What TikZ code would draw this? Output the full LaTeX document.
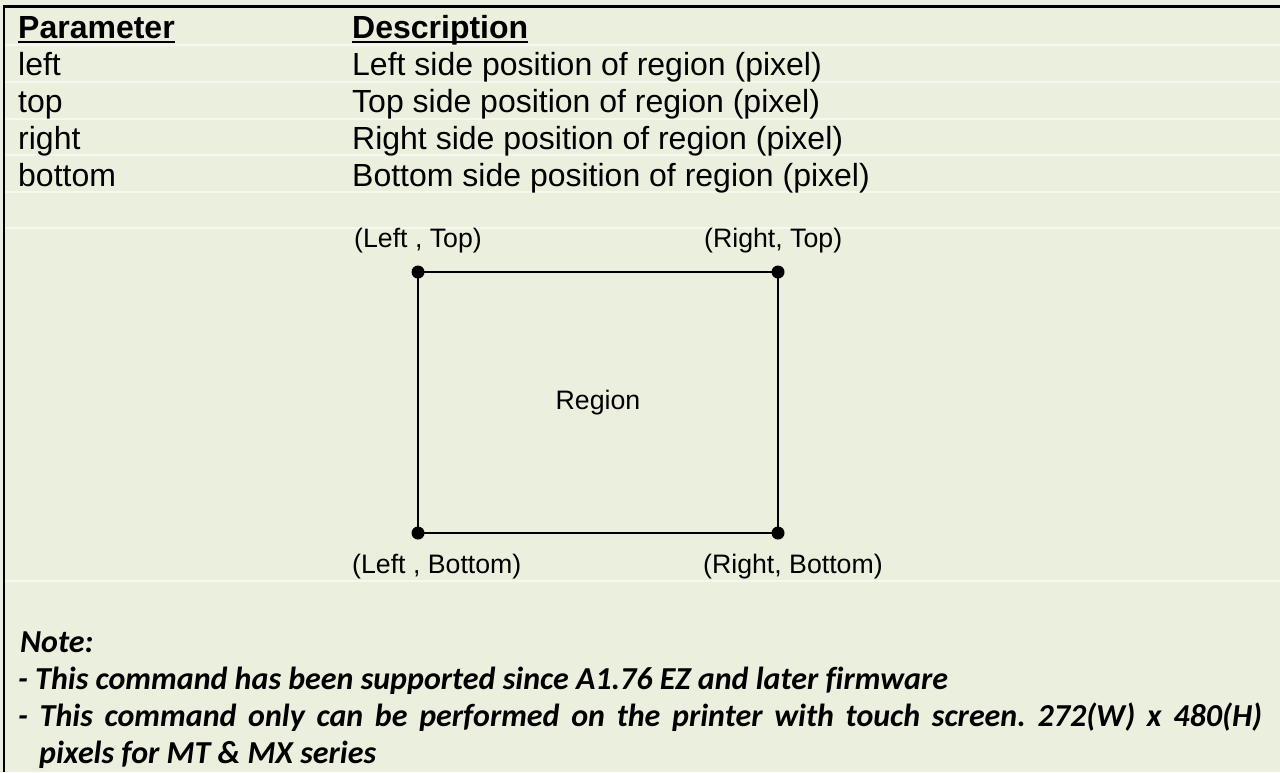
\documentclass[tikz,border=0pt]{standalone}
\usepackage{fontspec}
\setmainfont{Liberation Sans}
\newfontfamily\notefont[Ligatures=NoCommon]{Carlito}
\usetikzlibrary{positioning,calc}
\definecolor{pagebg}{RGB}{235,239,222}
\definecolor{rowline}{RGB}{246,248,240}
\frenchspacing
\tikzset{
  celltext/.style={anchor=base west, inner sep=0pt, font=\fontsize{32}{37}\selectfont},
  headtext/.style={celltext, font=\fontsize{32}{37}\selectfont\bfseries},
  cornerlabel/.style={anchor=base west, inner sep=0pt, font=\fontsize{26.7}{30}\selectfont},
  notetext/.style={anchor=base west, inner sep=0pt, font=\notefont\fontsize{32}{37}\selectfont\bfseries\itshape},
  cornerdot/.style={circle, fill=black, inner sep=0pt, minimum size=13pt},
  edge/.style={line width=2pt},
  rowrule/.style={draw=rowline, line width=1.2pt}
}

\begin{document}
\begin{tikzpicture}[x=1pt, y=-1pt]
  \fill[pagebg] (0,0) rectangle (1280,772);
  \useasboundingbox (0,0) rectangle (1280,772);
  % faint row lines
  \foreach \y in {45,82,119,155,192,228,581}
    \draw[rowrule] (5,\y) -- (1280,\y);
  % frame
  \draw[line width=3pt] (3,6) -- (1280,6);
  \draw[line width=2.5pt] (4,6) -- (4,772);
  % table
  \node[headtext] (param) at (18,38) {Parameter};
  \node[headtext] (desc) at (352,38) {Description};
  \draw[line width=2.5pt] ([yshift=-4pt]param.base west) -- ([yshift=-4pt]param.base east);
  \draw[line width=2.5pt] ([yshift=-4pt]desc.base west) -- ([yshift=-4pt]desc.base east);
  \foreach \side/\Side [count=\i] in {left/Left, top/Top, right/Right, bottom/Bottom} {
    \node[celltext] (p\side) at (18,38+37*\i) {\side};
    \node[celltext] (d\side) at (352,38+37*\i) {\Side\ side position of region (pixel)};
  }
  % region
  \coordinate (lt) at (418,272);
  \coordinate (rt) at (778,272);
  \coordinate (rb) at (778,533);
  \coordinate (lb) at (418,533);
  \draw[edge] (lt) -- (rt) -- (rb) -- (lb) -- cycle;
  \foreach \c in {lt,rt,rb,lb}
    \node[cornerdot] (dot\c) at (\c) {};
  \node[font=\fontsize{26.7}{30}\selectfont, inner sep=0pt] (region) at ($(lt)!0.5!(rb)$) {Region};
  \node[cornerlabel] (llt) at (354,247) {(Left , Top)};
  \node[cornerlabel] (lrt) at (704,247) {(Right, Top)};
  \node[cornerlabel] (llb) at (352,573) {(Left , Bottom)};
  \node[cornerlabel] (lrb) at (703,573) {(Right, Bottom)};
  % note
  \node[notetext] (note) at (20,652) {Note:};
  \node[notetext] (note1) at (18,689) {- This command has been supported since A1.76 EZ and later firmware};
  \node[notetext] (note2) at (18,726) {\makebox[1244pt][s]{- This command only can be performed on the printer with touch screen. 272(W) x 480(H)}};
  \node[notetext] (note3) at (39,763) {pixels for MT \& MX series};
\end{tikzpicture}
\end{document}
